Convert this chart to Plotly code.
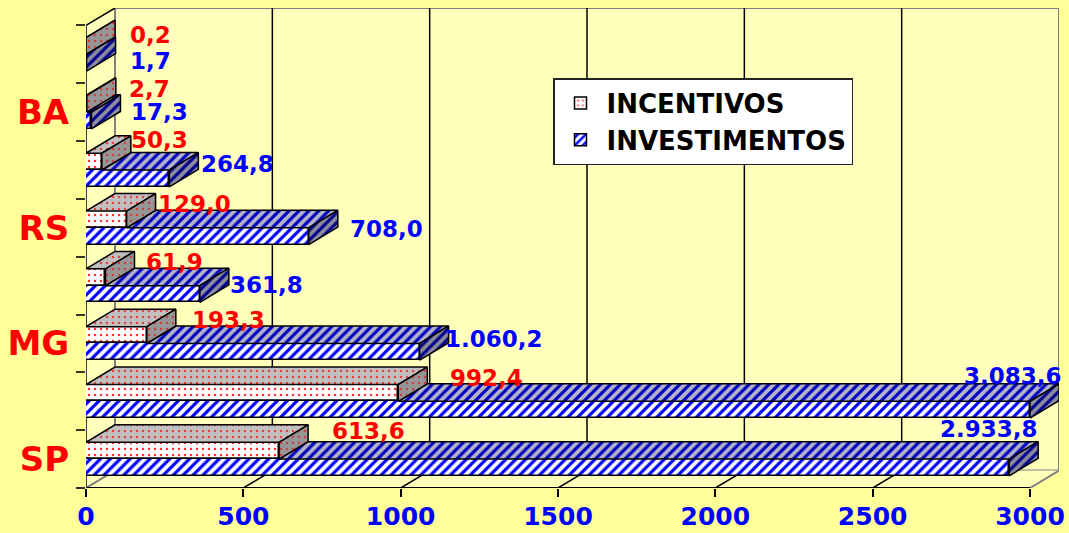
import numpy as np
import plotly.graph_objects as go

CATEGORIES = ["SP", "", "MG", "", "RS", "", "BA", ""]
INVESTIMENTOS = [2933.8, 3083.6, 1060.2, 361.8, 708.0, 264.8, 17.3, 1.7]
INCENTIVOS = [613.6, 992.4, 193.3, 61.9, 129.0, 50.3, 2.7, 0.2]
INV_LABELS = ["2.933,8", "3.083,6", "1.060,2", "361,8", "708,0", "264,8", "17,3", "1,7"]
INC_LABELS = ["613,6", "992,4", "193,3", "61,9", "129,0", "50,3", "2,7", "0,2"]
X_TICKS = [0, 500, 1000, 1500, 2000, 2500, 3000]

AXIS_MAX = 3000
DX, DY = 92.2, 0.302
PLOT_L, PLOT_R, PLOT_T, PLOT_B = 86, 1059, 8, 488
BAR_W = 0.29
Y_BLUE, Y_RED = 0.355, 0.645
FONT = "DejaVu Sans"
PAPER = "#FFFF99"
WALL = "#FFFFBB"

INV_SHIFT = [(-20, 38), (-17, 34), (74, 13), (67, 9), (78, 7), (68, 14), (68, 9), (64, 2)]
INC_SHIFT = [(89, 20), (88, 15), (82, 15), (69, 15), (68, 15), (58, 22), (63, 15), (64, 11)]

n = len(CATEGORIES)
bands = np.arange(n)
inv = np.minimum(INVESTIMENTOS, AXIS_MAX)
inc = np.minimum(INCENTIVOS, AXIS_MAX)


def pat(shape, fg, bg, size, solidity):
    return dict(shape=shape, fgcolor=fg, bgcolor=bg, size=size, solidity=solidity, fillmode="replace")


RED_FRONT = pat(".", "#FF3030", "#FFFFFF", 6, 0.14)
RED_TOP = pat(".", "#E84040", "#C0C0C0", 6, 0.14)
RED_SIDE = pat(".", "#D04040", "#969696", 6, 0.14)
BLUE_FRONT = pat("/", "#0000FF", "#FFFFFF", 7, 0.45)
BLUE_TOP = pat("/", "#0000C0", "#B4B4C8", 7, 0.45)
BLUE_SIDE = pat("/", "#000090", "#8C8C9C", 7, 0.45)

fig = go.Figure()
fig.add_trace(go.Bar(name="INCENTIVOS", orientation="h", y=bands + Y_RED, x=inc, width=BAR_W,
                     marker=dict(pattern=RED_FRONT, color="#FFFFFF", line=dict(color="#000000", width=1.5))))
fig.add_trace(go.Bar(name="INVESTIMENTOS", orientation="h", y=bands + Y_BLUE, x=inv, width=BAR_W,
                     marker=dict(pattern=BLUE_FRONT, color="#FFFFFF", line=dict(color="#000000", width=1.5))))


def poly(xs, ys, pattern):
    fig.add_trace(go.Scatter(x=list(xs) + [xs[0]], y=list(ys) + [ys[0]], mode="lines", fill="toself",
                             fillcolor=pattern["bgcolor"], fillpattern=pattern,
                             line=dict(color="#000000", width=1.5), showlegend=False, hoverinfo="skip"))


h = BAR_W / 2
for b in bands:
    # blue top starts where the red bar stands in front of it
    yt = b + Y_BLUE + h
    poly([inc[b], inv[b], inv[b] + DX, inc[b] + DX], [yt, yt, yt + DY, yt + DY], BLUE_TOP)
    yb = b + Y_BLUE - h
    poly([inv[b], inv[b] + DX, inv[b] + DX, inv[b]], [yb, yb + DY, yt + DY, yt], BLUE_SIDE)
    yt2 = b + Y_RED + h
    yb2 = b + Y_RED - h
    poly([0, inc[b], inc[b] + DX, DX], [yt2, yt2, yt2 + DY, yt2 + DY], RED_TOP)
    poly([inc[b], inc[b] + DX, inc[b] + DX, inc[b]], [yb2, yb2 + DY, yt2 + DY, yt2], RED_SIDE)

shapes = []
wall_line = dict(color="#808080", width=2)
shapes.append(dict(type="path", layer="below", fillcolor=WALL, line=wall_line,
                   path=f"M{DX},{DY} L{AXIS_MAX+DX},{DY} L{AXIS_MAX+DX},{n+DY} L{DX},{n+DY} Z"))
shapes.append(dict(type="path", layer="below", fillcolor=WALL, line=dict(width=0),
                   path=f"M0,0 L{DX},{DY} L{DX},{n+DY} L0,{n} Z"))
shapes.append(dict(type="path", layer="below", fillcolor=WALL, line=dict(width=0),
                   path=f"M0,0 L{AXIS_MAX},0 L{AXIS_MAX+DX},{DY} L{DX},{DY} Z"))
for t in X_TICKS[1:-1]:
    shapes.append(dict(type="line", layer="below", x0=t + DX, x1=t + DX, y0=DY, y1=n + DY,
                       line=dict(color="#000000", width=1.5)))
for t in X_TICKS[1:-1]:
    shapes.append(dict(type="line", layer="below", x0=t, x1=t + DX, y0=0, y1=DY,
                       line=dict(color="#000000", width=1.5)))
shapes.append(dict(type="line", layer="below", x0=AXIS_MAX, x1=AXIS_MAX + DX, y0=0, y1=DY, line=wall_line))
shapes.append(dict(type="line", layer="below", x0=0, x1=DX, y0=0, y1=DY, line=wall_line))
shapes.append(dict(type="line", layer="below", x0=DX, x1=DX, y0=DY, y1=n + DY, line=wall_line))
shapes.append(dict(type="line", layer="below", x0=0, x1=DX, y0=n, y1=n + DY, line=dict(color="#000000", width=1.5)))
shapes.append(dict(type="line", layer="below", x0=0, x1=AXIS_MAX, y0=0, y1=0, line=dict(color="#000000", width=2)))
shapes.append(dict(type="line", layer="below", x0=0, x1=0, y0=0, y1=n, line=dict(color="#404040", width=2)))

annotations = []
for b in bands:
    annotations.append(dict(x=inv[b], y=b + Y_BLUE, text=INV_LABELS[b], showarrow=False,
                            xshift=INV_SHIFT[b][0], yshift=INV_SHIFT[b][1],
                            font=dict(family=FONT, size=23, color="#0000FF", weight=700)))
    annotations.append(dict(x=inc[b], y=b + Y_RED, text=INC_LABELS[b], showarrow=False,
                            xshift=INC_SHIFT[b][0], yshift=INC_SHIFT[b][1],
                            font=dict(family=FONT, size=23, color="#FF0000", weight=700)))

W, H = 1069, 533
PW, PH = PLOT_R - PLOT_L, PLOT_B - PLOT_T
fig.update_layout(
    width=W, height=H, autosize=False,
    margin=dict(l=PLOT_L, r=W - PLOT_R, t=PLOT_T, b=H - PLOT_B, pad=0, autoexpand=False),
    paper_bgcolor=PAPER, plot_bgcolor=PAPER,
    barmode="overlay", bargap=0,
    shapes=shapes, annotations=annotations,
    legend=dict(x=(553 - PLOT_L) / PW, y=1 - (78 - PLOT_T) / PH, xanchor="left", yanchor="top",
                bgcolor="#FFFFFF", bordercolor="#222222", borderwidth=1.5,
                font=dict(family=FONT, size=26, color="#000000", weight=700),
                itemwidth=42, traceorder="normal", tracegroupgap=0, entrywidth=295, entrywidthmode="pixels"),
    xaxis=dict(range=[0, PW / ((1030 - PLOT_L) / AXIS_MAX)], tickmode="array", tickvals=X_TICKS,
               ticks="outside", ticklen=8, tickwidth=2, tickcolor="#000000", showgrid=False, zeroline=False,
               showline=False, automargin=False, tickfont=dict(family=FONT, size=25, color="#0000FF", weight=700),
               ticklabelstandoff=-2),
    yaxis=dict(range=[0, n + DY], tickmode="array", tickvals=[i + 0.5 for i, c in enumerate(CATEGORIES) if c],
               ticktext=[c for c in CATEGORIES if c], ticks="outside", ticklen=9, tickcolor="rgba(0,0,0,0)",
               showgrid=False, zeroline=False, showline=False, automargin=False,
               tickfont=dict(family=FONT, size=34, color="#FF0000", weight=700),
               minor=dict(tickmode="array", tickvals=list(range(n + 1)), ticks="outside", ticklen=9, tickwidth=2,
                          tickcolor="#333333", showgrid=False)),
)
fig.write_html("out.html", config={"displayModeBar": False},
               post_script="document.body.style.margin='0';")
